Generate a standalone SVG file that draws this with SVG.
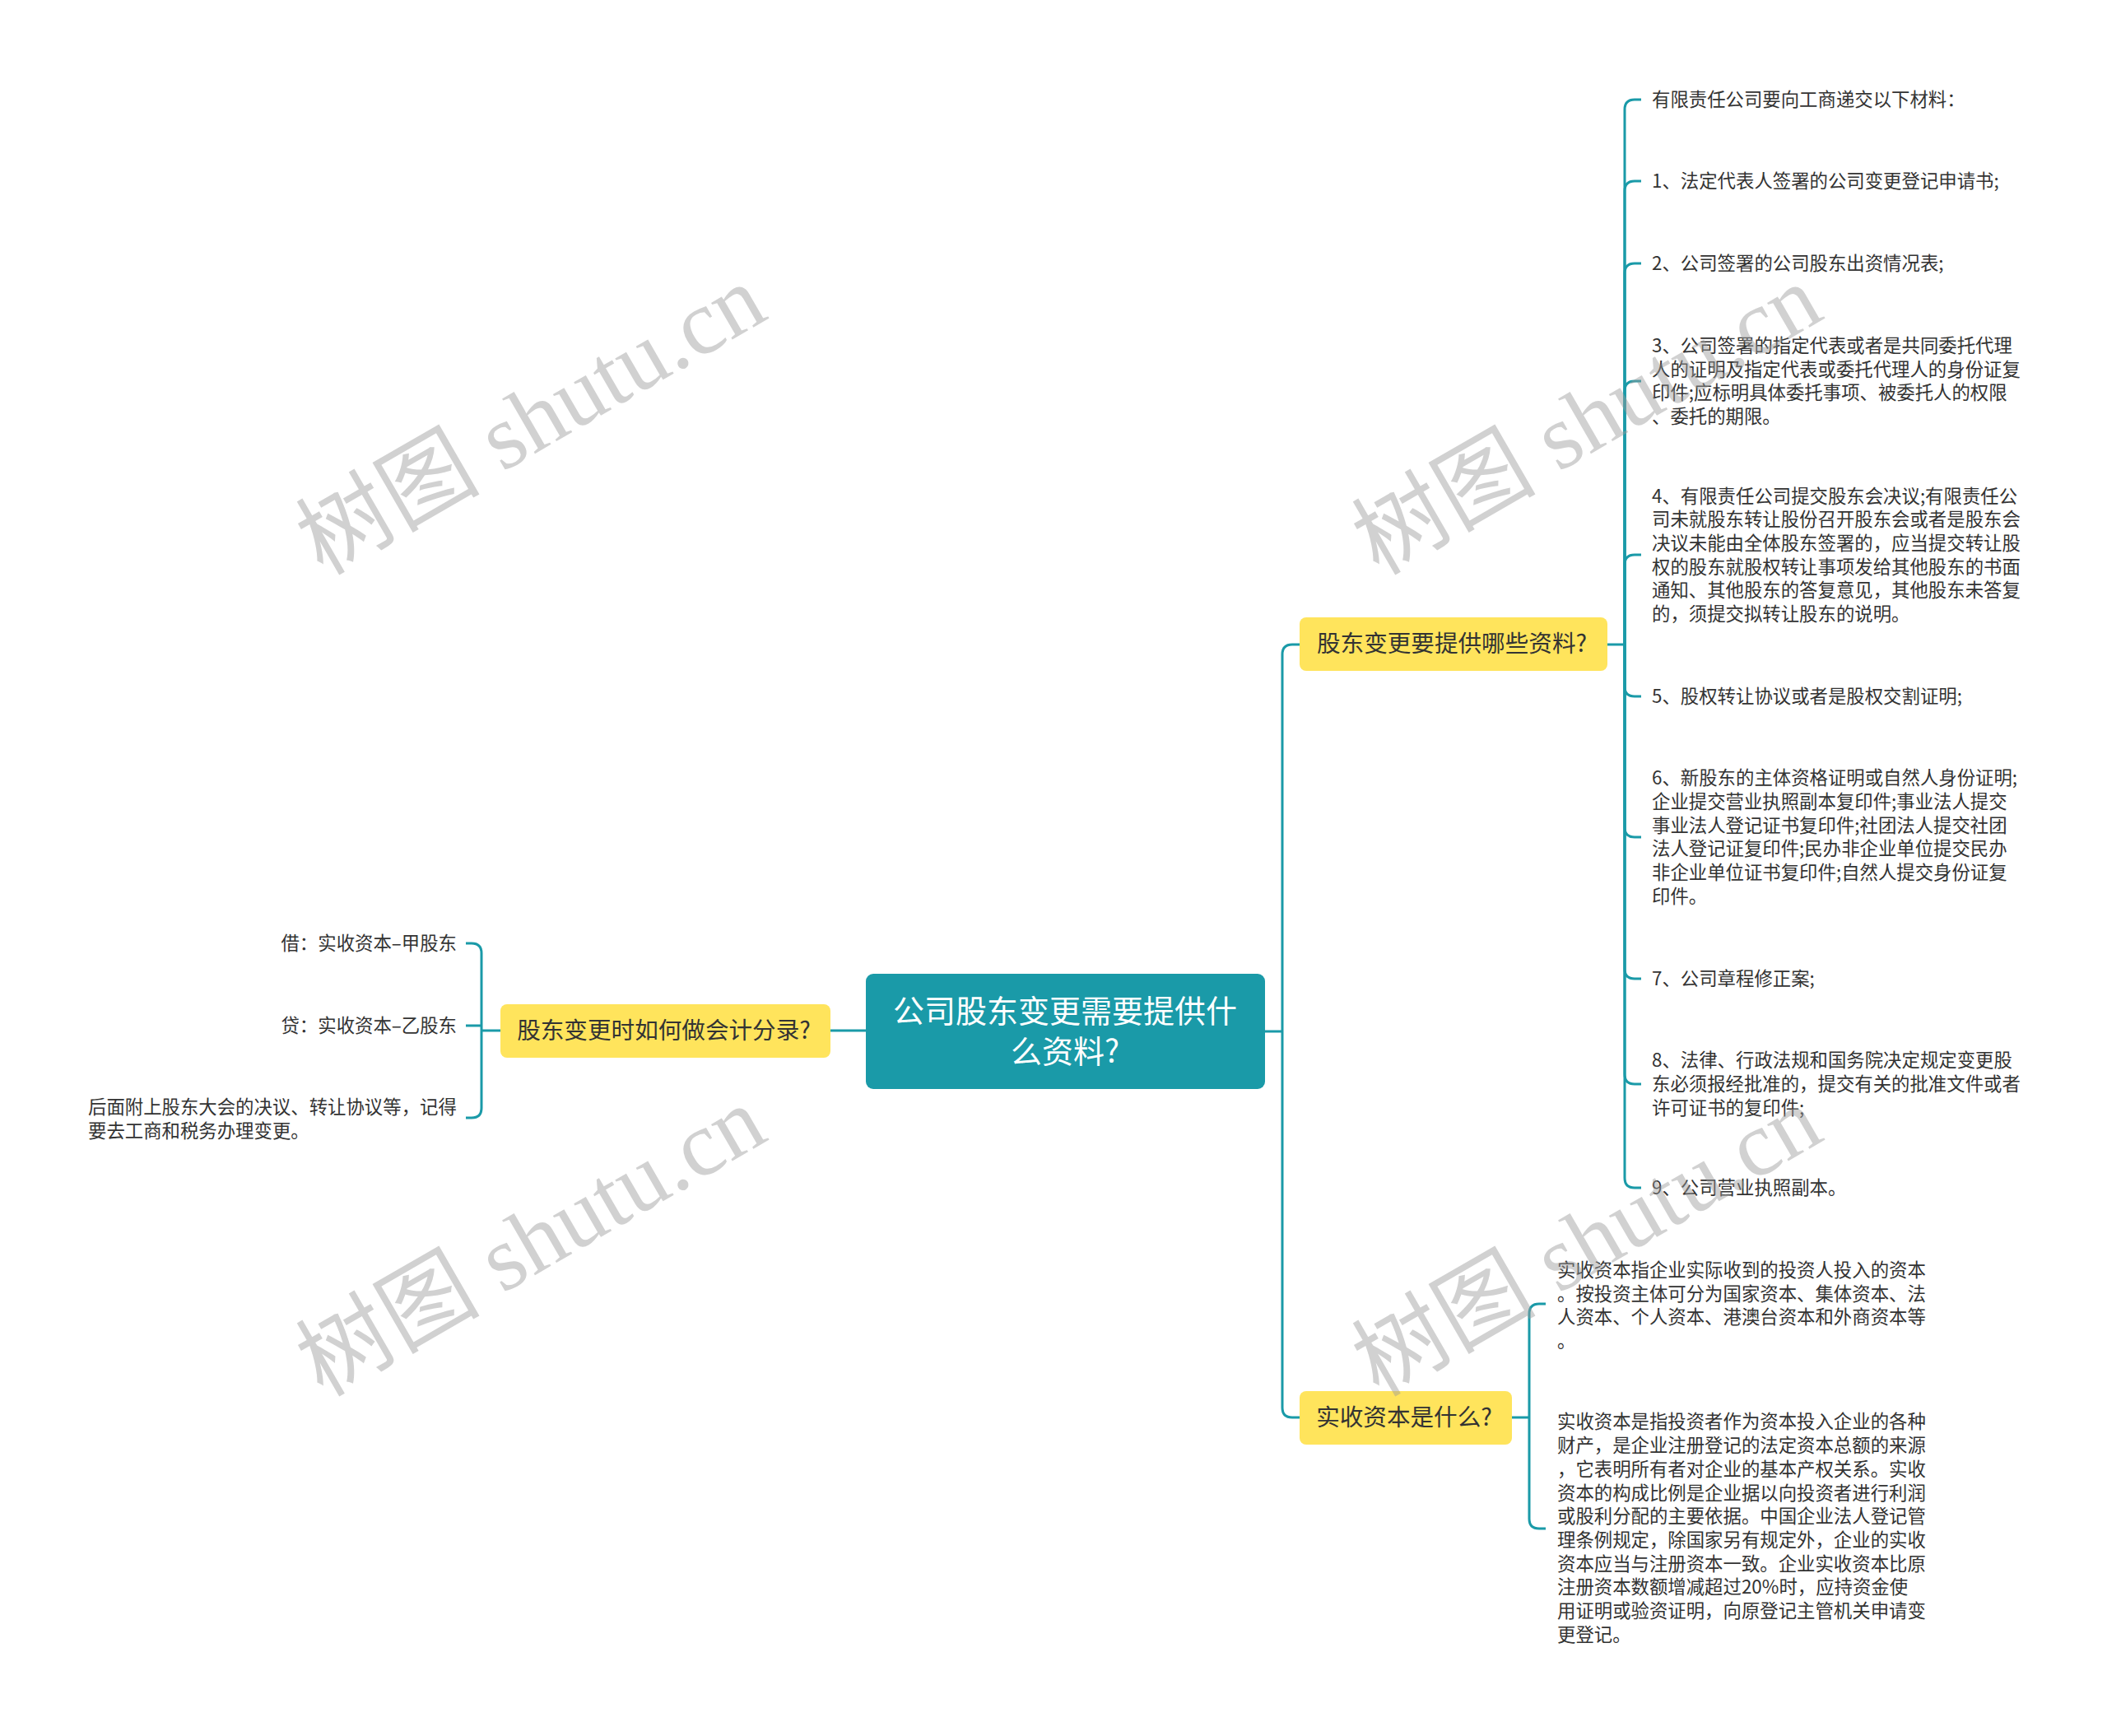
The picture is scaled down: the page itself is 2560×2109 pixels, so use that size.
<svg xmlns="http://www.w3.org/2000/svg" width="2560" height="2109" viewBox="0 0 2560 2109">
<style>
text{font-family:"Noto Sans CJK SC","Noto Sans",sans-serif;dominant-baseline:central}
.leaf{font-size:22.4px;fill:#333333}
.br{font-size:28.6px;fill:#333333;text-anchor:middle}
.rt{font-size:38px;fill:#ffffff;text-anchor:middle}
.conn{fill:none;stroke:#1a9aa8;stroke-width:3}
.ybox{fill:#ffe45c}
.wm{font-family:"Liberation Serif","Noto Sans CJK SC",serif;font-size:112px;fill:#9a9a9a;opacity:0.45;text-anchor:middle}
</style>
<rect width="2560" height="2109" fill="#ffffff"/>
<g id="connectors">
<path class="conn" d="M1537,1253 H1558"/>
<path class="conn" d="M1558,1253 V795 Q1558,783 1570,783 H1579"/>
<path class="conn" d="M1558,1253 V1710 Q1558,1722 1570,1722 H1579"/>
<path class="conn" d="M1052,1252 H1009"/>
<path class="conn" d="M608,1252 H585"/>
<path class="conn" d="M585,1252 V1158 Q585,1146 573,1146 H566"/>
<path class="conn" d="M585,1246 H566"/>
<path class="conn" d="M585,1252 V1346 Q585,1358 573,1358 H566"/>
<path class="conn" d="M1953,783 H1974"/>
<path class="conn" d="M1974,783 V133 Q1974,121 1986,121 H1994"/>
<path class="conn" d="M1974,783 V232 Q1974,220 1986,220 H1994"/>
<path class="conn" d="M1974,783 V332 Q1974,320 1986,320 H1994"/>
<path class="conn" d="M1974,783 V475 Q1974,463 1986,463 H1994"/>
<path class="conn" d="M1974,783 V686 Q1974,674 1986,674 H1994"/>
<path class="conn" d="M1974,783 V834 Q1974,846 1986,846 H1994"/>
<path class="conn" d="M1974,783 V1005 Q1974,1017 1986,1017 H1994"/>
<path class="conn" d="M1974,783 V1177 Q1974,1189 1986,1189 H1994"/>
<path class="conn" d="M1974,783 V1305 Q1974,1317 1986,1317 H1994"/>
<path class="conn" d="M1974,783 V1431 Q1974,1443 1986,1443 H1994"/>
<path class="conn" d="M1837,1722 H1858"/>
<path class="conn" d="M1858,1722 V1596 Q1858,1584 1870,1584 H1878"/>
<path class="conn" d="M1858,1722 V1845 Q1858,1857 1870,1857 H1878"/>
</g>
<g id="root">
<rect x="1052" y="1183" width="485" height="140" rx="9" fill="#1a9aa8"/>
<text class="rt"><tspan x="1294" y="1225">公司股东变更需要提供什</tspan><tspan x="1294" y="1274">么资料?</tspan></text>
</g>
<g id="branch-materials">
<rect class="ybox" x="1579" y="750" width="374" height="65" rx="8"/>
<text class="br" x="1764" y="779.5">股东变更要提供哪些资料?</text>
</g>
<g id="branch-accounting">
<rect class="ybox" x="608" y="1220" width="401" height="65" rx="8"/>
<text class="br" x="806.5" y="1249.5">股东变更时如何做会计分录?</text>
</g>
<g id="branch-capital">
<rect class="ybox" x="1579" y="1690" width="258" height="65" rx="8"/>
<text class="br" x="1706" y="1719.5">实收资本是什么?</text>
</g>
<g id="leaf-m0"><text class="leaf" x="2007" y="119">有限责任公司要向工商递交以下材料：</text></g>
<g id="leaf-m1"><text class="leaf" x="2007" y="218">1、法定代表人签署的公司变更登记申请书;</text></g>
<g id="leaf-m2"><text class="leaf" x="2007" y="318">2、公司签署的公司股东出资情况表;</text></g>
<g id="leaf-m3">
<text class="leaf" x="2007" y="418">3、公司签署的指定代表或者是共同委托代理</text>
<text class="leaf" x="2007" y="446.7">人的证明及指定代表或委托代理人的身份证复</text>
<text class="leaf" x="2007" y="475.4">印件;应标明具体委托事项、被委托人的权限</text>
<text class="leaf" x="2007" y="504.1">、委托的期限。</text>
</g>
<g id="leaf-m4">
<text class="leaf" x="2007" y="600.5">4、有限责任公司提交股东会决议;有限责任公</text>
<text class="leaf" x="2007" y="629.2">司未就股东转让股份召开股东会或者是股东会</text>
<text class="leaf" x="2007" y="657.9">决议未能由全体股东签署的，应当提交转让股</text>
<text class="leaf" x="2007" y="686.6">权的股东就股权转让事项发给其他股东的书面</text>
<text class="leaf" x="2007" y="715.3">通知、其他股东的答复意见，其他股东未答复</text>
<text class="leaf" x="2007" y="744">的，须提交拟转让股东的说明。</text>
</g>
<g id="leaf-m5"><text class="leaf" x="2007" y="844">5、股权转让协议或者是股权交割证明;</text></g>
<g id="leaf-m6">
<text class="leaf" x="2007" y="943.3">6、新股东的主体资格证明或自然人身份证明;</text>
<text class="leaf" x="2007" y="972">企业提交营业执照副本复印件;事业法人提交</text>
<text class="leaf" x="2007" y="1000.7">事业法人登记证书复印件;社团法人提交社团</text>
<text class="leaf" x="2007" y="1029.4">法人登记证复印件;民办非企业单位提交民办</text>
<text class="leaf" x="2007" y="1058.1">非企业单位证书复印件;自然人提交身份证复</text>
<text class="leaf" x="2007" y="1086.8">印件。</text>
</g>
<g id="leaf-m7"><text class="leaf" x="2007" y="1187">7、公司章程修正案;</text></g>
<g id="leaf-m8">
<text class="leaf" x="2007" y="1286.2">8、法律、行政法规和国务院决定规定变更股</text>
<text class="leaf" x="2007" y="1314.9">东必须报经批准的，提交有关的批准文件或者</text>
<text class="leaf" x="2007" y="1343.6">许可证书的复印件;</text>
</g>
<g id="leaf-m9"><text class="leaf" x="2007" y="1441">9、公司营业执照副本。</text></g>
<g id="leaf-a1"><text class="leaf" x="555" y="1144" text-anchor="end">借：实收资本–甲股东</text></g>
<g id="leaf-a2"><text class="leaf" x="555" y="1244" text-anchor="end">贷：实收资本–乙股东</text></g>
<g id="leaf-a3">
<text class="leaf" x="107" y="1343.4">后面附上股东大会的决议、转让协议等，记得</text>
<text class="leaf" x="107" y="1372.1">要去工商和税务办理变更。</text>
</g>
<g id="leaf-c1">
<text class="leaf" x="1892" y="1541">实收资本指企业实际收到的投资人投入的资本</text>
<text class="leaf" x="1892" y="1569.7">。按投资主体可分为国家资本、集体资本、法</text>
<text class="leaf" x="1892" y="1598.4">人资本、个人资本、港澳台资本和外商资本等</text>
<text class="leaf" x="1892" y="1627.1">。</text>
</g>
<g id="leaf-c2">
<text class="leaf" x="1892" y="1725.4">实收资本是指投资者作为资本投入企业的各种</text>
<text class="leaf" x="1892" y="1754.1">财产，是企业注册登记的法定资本总额的来源</text>
<text class="leaf" x="1892" y="1782.8">，它表明所有者对企业的基本产权关系。实收</text>
<text class="leaf" x="1892" y="1811.5">资本的构成比例是企业据以向投资者进行利润</text>
<text class="leaf" x="1892" y="1840.2">或股利分配的主要依据。中国企业法人登记管</text>
<text class="leaf" x="1892" y="1868.9">理条例规定，除国家另有规定外，企业的实收</text>
<text class="leaf" x="1892" y="1897.6">资本应当与注册资本一致。企业实收资本比原</text>
<text class="leaf" x="1892" y="1926.3">注册资本数额增减超过20%时，应持资金使</text>
<text class="leaf" x="1892" y="1955">用证明或验资证明，向原登记主管机关申请变</text>
<text class="leaf" x="1892" y="1983.7">更登记。</text>
</g>
<g id="watermarks">
<text class="wm" transform="translate(645,510) rotate(-30)">树图 shutu.cn</text>
<text class="wm" transform="translate(1928,510) rotate(-30)">树图 shutu.cn</text>
<text class="wm" transform="translate(645,1508) rotate(-30)">树图 shutu.cn</text>
<text class="wm" transform="translate(1928,1508) rotate(-30)">树图 shutu.cn</text>
</g>
</svg>
